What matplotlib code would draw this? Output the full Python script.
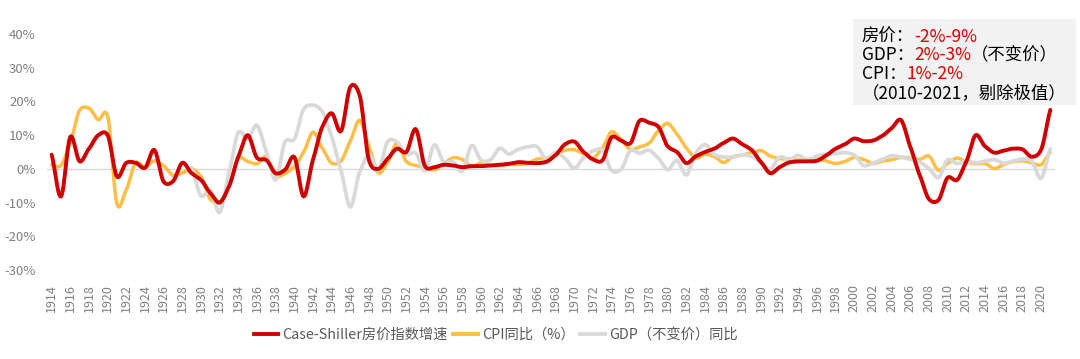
import numpy as np
import matplotlib
matplotlib.use("Agg")
import matplotlib.pyplot as plt
from matplotlib.lines import Line2D

plt.rcParams['font.family'] = ['Noto Sans CJK SC', 'DejaVu Sans']

# ---------------- data ----------------
years = list(range(1914, 2022))

house_price = [
    4.2, -8.2, 9.5, 2.2, 6.0, 10.0, 10.0, -2.3, 1.8, 1.8,        # 1914-1923
    0.3, 5.6, -3.8, -3.7, 1.8, -1.3, -3.3, -7.2, -10.0, -5.2,    # 1924-1933
    3.6, 10.0, 3.3, 2.6, -1.3, -0.3, 3.5, -8.2, 2.7, 12.5,       # 1934-1943
    16.5, 11.2, 24.3, 21.8, 2.5, 0.0, 3.0, 6.0, 5.0, 11.8,       # 1944-1953
    0.8, 0.5, 1.2, 1.0, 0.5, 0.8, 0.8, 1.0, 1.2, 1.5,            # 1954-1963
    2.0, 1.8, 1.7, 2.1, 4.1, 7.3, 8.1, 5.0, 2.8, 2.5,            # 1964-1973
    9.4, 8.4, 7.6, 14.3, 13.7, 12.5, 6.7, 5.0, 1.7, 3.7,         # 1974-1983
    5.0, 6.0, 7.7, 9.0, 7.3, 5.6, 2.0, -1.3, 0.5, 1.9,           # 1984-1993
    2.2, 2.2, 2.4, 4.0, 6.0, 7.3, 9.0, 8.2, 8.4, 9.8,            # 1994-2003
    12.1, 14.5, 6.5, -1.8, -9.0, -9.3, -2.6, -3.3, 2.2, 10.0,    # 2004-2013
    6.7, 4.8, 5.4, 6.0, 5.8, 3.6, 5.6, 17.5,                     # 2014-2021
]

cpi = [
    1.2, 1.0, 7.9, 17.4, 18.0, 14.6, 15.6, -10.5, -6.1, 1.8,     # 1914-1923
    0.4, 2.4, 0.9, -1.9, -1.2, 0.0, -2.3, -9.0, -9.9, -5.1,      # 1924-1933
    3.1, 2.2, 1.5, 3.6, -2.1, -1.4, 0.7, 5.0, 10.9, 6.1,         # 1934-1943
    1.7, 2.3, 8.3, 14.4, 6.5, -1.2, 2.0, 7.6, 2.2, 1.0,          # 1944-1953
    0.5, -0.3, 1.5, 3.3, 2.8, 0.7, 1.7, 1.0, 1.0, 1.3,           # 1954-1963
    1.3, 1.6, 2.9, 3.1, 4.2, 5.5, 5.7, 4.4, 3.2, 6.2,            # 1964-1973
    11.0, 8.7, 5.8, 6.5, 7.6, 11.3, 13.5, 10.3, 6.2, 3.2,        # 1974-1983
    4.3, 3.6, 1.9, 3.6, 4.1, 4.8, 5.4, 3.8, 3.0, 3.0,            # 1984-1993
    2.6, 2.8, 3.0, 2.3, 1.6, 2.2, 3.4, 2.8, 1.6, 2.3,            # 1994-2003
    2.7, 3.4, 3.2, 2.8, 3.8, -0.4, 1.6, 3.2, 2.1, 1.5,           # 2004-2013
    1.6, 0.1, 1.3, 2.1, 2.4, 1.8, 1.2, 5.0,                      # 2014-2021
]

gdp_years = list(range(1929, 2022))
gdp = [
    0.3, -8.0, -6.4, -12.9, -1.2, 10.8, 8.9, 12.9, 5.1, -3.3,    # 1929-1938
    8.0, 8.8, 17.7, 18.9, 17.0, 9.5, -0.5, -11.3, -1.0, 4.1,     # 1939-1948
    -0.4, 8.1, 8.0, 4.3, 4.7, -0.6, 7.1, 2.1, 2.1, -0.7,         # 1949-1958
    6.9, 2.6, 2.6, 6.1, 4.4, 5.8, 6.5, 6.6, 2.7, 4.9,            # 1959-1968
    3.1, 0.2, 3.3, 5.3, 5.6, -0.5, -0.2, 5.4, 4.6, 5.5,          # 1969-1978
    3.2, -0.3, 2.5, -1.8, 4.6, 7.2, 4.2, 3.5, 3.5, 4.2,          # 1979-1988
    3.7, 1.9, -0.1, 3.5, 2.8, 4.0, 2.7, 3.8, 4.4, 4.5,           # 1989-1998
    4.8, 4.1, 1.0, 1.7, 2.8, 3.9, 3.5, 2.8, 2.0, 0.1,            # 1999-2008
    -2.6, 2.7, 1.6, 2.3, 1.8, 2.3, 2.7, 1.7, 2.3, 2.9,           # 2009-2018
    2.3, -2.8, 5.9,                                              # 2019-2021
]

tick_years = list(range(1914, 2021, 2))
y_ticks = [-30, -20, -10, 0, 10, 20, 30, 40]

legend_labels = ["Case-Shiller房价指数增速", "CPI同比（%）", "GDP（不变价）同比"]

assert len(house_price) == len(years)
assert len(cpi) == len(years)
assert len(gdp) == len(gdp_years)


def smooth(xs, ys, n=12):
    """Cardinal-spline smoothing for drawing (like Excel smoothed lines)."""
    xs = np.asarray(xs, float)
    ys = np.asarray(ys, float)
    px = np.concatenate([[2 * xs[0] - xs[1]], xs, [2 * xs[-1] - xs[-2]]])
    py = np.concatenate([[2 * ys[0] - ys[1]], ys, [2 * ys[-1] - ys[-2]]])
    ox, oy = [], []
    t = np.linspace(0, 1, n, endpoint=False)
    for i in range(1, len(px) - 2):
        p0, p1, p2, p3 = py[i - 1], py[i], py[i + 1], py[i + 2]
        x1, x2 = px[i], px[i + 1]
        m1 = (p2 - p0) / 2 * 0.8
        m2 = (p3 - p1) / 2 * 0.8
        h00 = 2 * t**3 - 3 * t**2 + 1
        h10 = t**3 - 2 * t**2 + t
        h01 = -2 * t**3 + 3 * t**2
        h11 = t**3 - t**2
        ox.extend(x1 + (x2 - x1) * t)
        oy.extend(h00 * p1 + h10 * m1 + h01 * p2 + h11 * m2)
    ox.append(xs[-1])
    oy.append(ys[-1])
    return np.array(ox), np.array(oy)


RED = "#D00000"
YEL = "#FFBE45"
GRY = "#D9D9D9"
TXT = "#808080"

fig = plt.figure(figsize=(10.8, 3.59), dpi=100)
ax = fig.add_axes([47 / 1080, 1 - 270 / 359, (1055 - 47) / 1080, (270 - 34) / 359])

ax.axhline(0, color="#D9D9D9", lw=1.0, zorder=1)

x, y = smooth(years, cpi)
ax.plot(x, y, color=YEL, lw=2.5, zorder=2, solid_capstyle="round")
x, y = smooth(gdp_years, gdp)
ax.plot(x, y, color=GRY, lw=2.7, zorder=3, solid_capstyle="round")
x, y = smooth(years, house_price)
ax.plot(x, y, color=RED, lw=2.8, zorder=4, solid_capstyle="round")

ax.set_xlim(1913.5, 2021.5)
ax.set_ylim(-30, 40)
ax.set_yticks(y_ticks)
ax.set_yticklabels([f"{v}%" for v in y_ticks])
ax.set_xticks(tick_years)
ax.set_xticklabels([str(v) for v in tick_years], rotation=90)
ax.tick_params(axis="y", length=0, pad=8, labelsize=9.5, labelcolor=TXT)
ax.tick_params(axis="x", length=0, pad=10, labelsize=9, labelcolor=TXT)
for s in ax.spines.values():
    s.set_visible(False)

# annotation box
box_ax = fig.add_axes([853 / 1080, 1 - 105 / 359, (1076 - 853) / 1080, (105 - 19) / 359])
box_ax.set_facecolor("#F2F2F2")
box_ax.set_xticks([])
box_ax.set_yticks([])
for s in box_ax.spines.values():
    s.set_visible(False)

fs = 12.5
lines = [
    [("房价：", "black"), ("-2%-9%", "#E00000")],
    [("GDP：", "black"), ("2%-3%", "#E00000"), ("（不变价）", "black")],
    [("CPI：", "black"), ("1%-2%", "#E00000")],
    [("（2010-2021，剔除极值）", "black")],
]
y0 = 0.90
dy = 0.218
for i, parts in enumerate(lines):
    prev = None
    for txt, col in parts:
        if prev is None:
            prev = box_ax.text(0.04, y0 - i * dy, txt, color=col, fontsize=fs,
                               ha="left", va="top", transform=box_ax.transAxes)
        else:
            prev = box_ax.annotate(txt, xy=(1, 0), xycoords=prev, color=col,
                                   fontsize=fs, ha="left", va="bottom")

handles = [Line2D([], [], color=c, lw=2.8) for c in (RED, YEL, GRY)]
fig.legend(handles, legend_labels, loc="center", bbox_to_anchor=(0.459, 1 - 335 / 359),
           ncol=3, frameon=False, fontsize=10.3, labelcolor="#595959",
           handlelength=1.7, handletextpad=0.3, columnspacing=0.4)

fig.savefig("out.png", dpi=100)
